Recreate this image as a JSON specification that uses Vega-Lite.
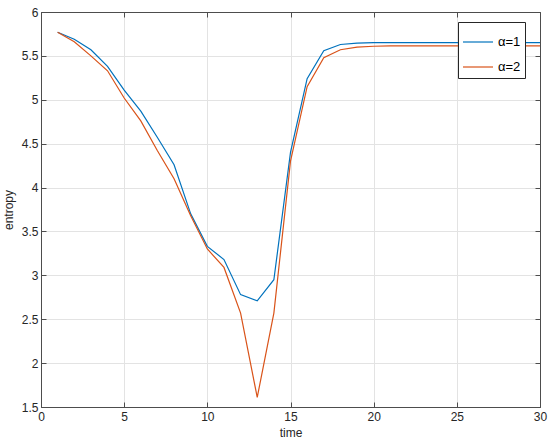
{
  "$schema": "https://vega.github.io/schema/vega-lite/v6.json",
  "width": 499,
  "height": 395,
  "autosize": {"type": "none"},
  "padding": {"left": 41, "top": 12, "right": 10, "bottom": 39},
  "background": "white",
  "config": {
    "view": {"stroke": "#4d4d4d", "strokeWidth": 1},
    "font": "Liberation Sans",
    "axis": {
      "labelFont": "Liberation Sans",
      "titleFont": "Liberation Sans",
      "labelFontSize": 12,
      "titleFontSize": 12,
      "labelColor": "#262626",
      "titleColor": "#262626",
      "titleFontWeight": "normal",
      "domainColor": "#4d4d4d",
      "tickColor": "#4d4d4d",
      "gridColor": "#e3e3e3",
      "tickSize": -5,
      "labelFlush": false,
      "format": "~g"
    }
  },
  "data": {
    "values": [
      {"time": 1, "entropy": 5.77, "series": "α=1"},
      {"time": 2, "entropy": 5.69, "series": "α=1"},
      {"time": 3, "entropy": 5.57, "series": "α=1"},
      {"time": 4, "entropy": 5.38, "series": "α=1"},
      {"time": 5, "entropy": 5.11, "series": "α=1"},
      {"time": 6, "entropy": 4.87, "series": "α=1"},
      {"time": 7, "entropy": 4.57, "series": "α=1"},
      {"time": 8, "entropy": 4.26, "series": "α=1"},
      {"time": 9, "entropy": 3.7, "series": "α=1"},
      {"time": 10, "entropy": 3.33, "series": "α=1"},
      {"time": 11, "entropy": 3.18, "series": "α=1"},
      {"time": 12, "entropy": 2.78, "series": "α=1"},
      {"time": 13, "entropy": 2.71, "series": "α=1"},
      {"time": 14, "entropy": 2.95, "series": "α=1"},
      {"time": 15, "entropy": 4.4, "series": "α=1"},
      {"time": 16, "entropy": 5.24, "series": "α=1"},
      {"time": 17, "entropy": 5.56, "series": "α=1"},
      {"time": 18, "entropy": 5.63, "series": "α=1"},
      {"time": 19, "entropy": 5.645, "series": "α=1"},
      {"time": 20, "entropy": 5.65, "series": "α=1"},
      {"time": 21, "entropy": 5.65, "series": "α=1"},
      {"time": 22, "entropy": 5.65, "series": "α=1"},
      {"time": 23, "entropy": 5.65, "series": "α=1"},
      {"time": 24, "entropy": 5.65, "series": "α=1"},
      {"time": 25, "entropy": 5.65, "series": "α=1"},
      {"time": 26, "entropy": 5.65, "series": "α=1"},
      {"time": 27, "entropy": 5.65, "series": "α=1"},
      {"time": 28, "entropy": 5.65, "series": "α=1"},
      {"time": 29, "entropy": 5.65, "series": "α=1"},
      {"time": 30, "entropy": 5.65, "series": "α=1"},
      {"time": 1, "entropy": 5.77, "series": "α=2"},
      {"time": 2, "entropy": 5.66, "series": "α=2"},
      {"time": 3, "entropy": 5.5, "series": "α=2"},
      {"time": 4, "entropy": 5.33, "series": "α=2"},
      {"time": 5, "entropy": 5.02, "series": "α=2"},
      {"time": 6, "entropy": 4.76, "series": "α=2"},
      {"time": 7, "entropy": 4.42, "series": "α=2"},
      {"time": 8, "entropy": 4.1, "series": "α=2"},
      {"time": 9, "entropy": 3.68, "series": "α=2"},
      {"time": 10, "entropy": 3.3, "series": "α=2"},
      {"time": 11, "entropy": 3.09, "series": "α=2"},
      {"time": 12, "entropy": 2.57, "series": "α=2"},
      {"time": 13, "entropy": 1.61, "series": "α=2"},
      {"time": 14, "entropy": 2.57, "series": "α=2"},
      {"time": 15, "entropy": 4.3, "series": "α=2"},
      {"time": 16, "entropy": 5.15, "series": "α=2"},
      {"time": 17, "entropy": 5.48, "series": "α=2"},
      {"time": 18, "entropy": 5.57, "series": "α=2"},
      {"time": 19, "entropy": 5.6, "series": "α=2"},
      {"time": 20, "entropy": 5.61, "series": "α=2"},
      {"time": 21, "entropy": 5.615, "series": "α=2"},
      {"time": 22, "entropy": 5.615, "series": "α=2"},
      {"time": 23, "entropy": 5.615, "series": "α=2"},
      {"time": 24, "entropy": 5.615, "series": "α=2"},
      {"time": 25, "entropy": 5.615, "series": "α=2"},
      {"time": 26, "entropy": 5.615, "series": "α=2"},
      {"time": 27, "entropy": 5.615, "series": "α=2"},
      {"time": 28, "entropy": 5.615, "series": "α=2"},
      {"time": 29, "entropy": 5.615, "series": "α=2"},
      {"time": 30, "entropy": 5.615, "series": "α=2"}
    ]
  },
  "layer": [
    {
      "mark": {"type": "line", "strokeWidth": 1.2},
      "encoding": {
        "x": {
          "field": "time", "type": "quantitative",
          "scale": {"domain": [0, 30], "nice": false},
          "axis": {"values": [0, 5, 10, 15, 20, 25, 30], "title": "time", "titlePadding": 5, "labelPadding": 9}
        },
        "y": {
          "field": "entropy", "type": "quantitative",
          "scale": {"domain": [1.5, 6], "nice": false, "zero": false},
          "axis": {"values": [1.5, 2, 2.5, 3, 3.5, 4, 4.5, 5, 5.5, 6], "title": "entropy", "titlePadding": 6, "labelPadding": 8}
        },
        "color": {
          "field": "series", "type": "nominal",
          "scale": {"domain": ["α=1", "α=2"], "range": ["#0072BD", "#D95319"]},
          "legend": {
            "title": null,
            "orient": "none",
            "legendX": 417,
            "legendY": 10,
            "symbolType": "stroke",
            "symbolSize": 900,
            "symbolStrokeWidth": 1.2,
            "labelFontSize": 13,
            "labelFont": "Liberation Sans",
            "labelColor": "#000000",
            "fillColor": "white",
            "strokeColor": "#262626",
            "padding": 4,
            "rowPadding": 2,
            "cornerRadius": 0
          }
        }
      }
    },
    {
      "mark": {"type": "line", "opacity": 0},
      "encoding": {
        "x": {
          "field": "time", "type": "quantitative",
          "scale": {"domain": [0, 30], "nice": false},
          "axis": {"orient": "top", "values": [0, 5, 10, 15, 20, 25, 30], "labels": false, "title": null, "grid": false}
        },
        "y": {
          "field": "entropy", "type": "quantitative",
          "scale": {"domain": [1.5, 6], "nice": false, "zero": false},
          "axis": {"orient": "right", "values": [1.5, 2, 2.5, 3, 3.5, 4, 4.5, 5, 5.5, 6], "labels": false, "title": null, "grid": false}
        }
      }
    }
  ],
  "resolve": {"axis": {"x": "independent", "y": "independent"}}
}
